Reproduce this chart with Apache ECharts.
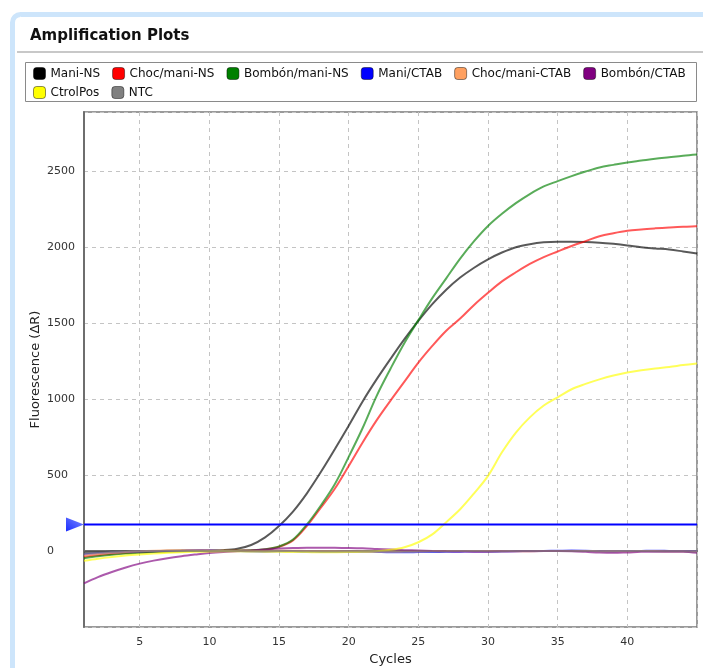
<!DOCTYPE html>
<html>
<head>
<meta charset="utf-8">
<script src="https://cdn.jsdelivr.net/npm/echarts@6/dist/echarts.min.js"></script>
<style>
  html, body { margin: 0; padding: 0; background: #ffffff; }
  #chart { width: 703px; height: 668px; }
</style>
</head>
<body>
<div id="chart"></div>
<script>
// Cycle numbers (x axis)
const cycles = [1,2,3,4,5,6,7,8,9,10,11,12,13,14,15,16,17,18,19,20,21,22,23,24,25,26,27,28,29,30,31,32,33,34,35,36,37,38,39,40,41,42,43,44,45];

// Fluorescence (ΔR) per cycle for each sample
const maniNS = [-12,-8,-5,-3,-2,0,2,3,3,4,6,15,40,90,165,260,380,520,670,825,985,1130,1265,1395,1515,1625,1720,1800,1865,1920,1965,2000,2020,2032,2036,2036,2035,2030,2022,2012,2000,1992,1985,1972,1958];
const chocManiNS = [-37,-27,-19,-13,-8,-4,-2,0,1,2,2,3,4,10,28,70,165,285,410,560,715,860,990,1115,1240,1350,1450,1530,1620,1700,1775,1835,1890,1935,1972,2008,2040,2072,2092,2108,2117,2124,2130,2135,2138];
const bombonManiNS = [-48,-35,-25,-17,-11,-6,-3,-1,0,1,2,3,5,12,30,75,175,300,440,620,810,1020,1200,1370,1520,1665,1795,1925,2040,2140,2220,2290,2350,2400,2435,2468,2498,2525,2542,2558,2570,2582,2592,2602,2610];
const maniCTAB = [-22,-15,-10,-6,-3,-1,0,2,5,3,1,0,-2,-3,-2,-2,-3,-4,-5,-5,-4,-6,-8,-8,-7,-6,-5,-4,-3,-3,-2,-1,0,1,2,3,2,0,-1,0,1,2,1,0,-2];
const chocManiCTAB = [-30,-20,-12,-6,-2,2,5,6,5,3,2,1,1,2,3,2,1,0,0,-1,-2,-3,-3,-2,-1,0,0,1,1,0,0,-1,-1,0,1,1,0,-1,-2,-1,0,0,-1,-2,-3];
const bombonCTAB = [-213,-172,-138,-108,-83,-63,-47,-34,-23,-13,-6,-1,4,10,16,20,22,22,21,20,18,14,10,6,3,0,-2,-3,-4,-4,-3,-2,-1,0,0,-1,-5,-10,-12,-9,-5,-4,-4,-5,-12];
const ctrolPos = [-64,-50,-39,-30,-23,-17,-12,-8,-5,-3,-2,-2,-3,-4,-5,-6,-7,-8,-8,-7,-5,-1,8,25,58,110,190,275,380,495,650,780,880,958,1012,1065,1100,1130,1155,1175,1190,1202,1212,1224,1235];
const ntc = [-15,-10,-6,-3,-1,0,1,1,1,0,0,0,-1,-1,0,0,-1,-2,-2,-1,-1,-2,-3,-3,-2,-1,-1,0,0,-1,-1,0,0,1,1,0,0,-1,-1,0,0,-1,-1,-2,-3];

// Threshold level (ΔR)
const thresholdValue = 175;

// Axis ticks
const xTickValues = [5, 10, 15, 20, 25, 30, 35, 40];
const yTickLabels = [0, 500, 1000, 1500, 2000, 2500];

// Sample names and their colours
const sampleNames = ['Mani-NS', 'Choc/mani-NS', 'Bombón/mani-NS', 'Mani/CTAB', 'Choc/mani-CTAB', 'Bombón/CTAB', 'CtrolPos', 'NTC'];
const sampleColors = ['#000000', '#ff0000', '#008000', '#0000ff', '#ffa060', '#800080', '#ffff00', '#808080'];
const sampleValues = [maniNS, chocManiNS, bombonManiNS, maniCTAB, chocManiCTAB, bombonCTAB, ctrolPos, ntc];

const FONT = 'DejaVu Sans';

const chart = echarts.init(document.getElementById('chart'), null, { renderer: 'canvas' });

const curveSeries = sampleNames.map((name, i) => ({
  name: name,
  type: 'line',
  data: cycles.map((c, k) => [c, sampleValues[i][k]]),
  showSymbol: false,
  symbol: 'none',
  smooth: 0.35,
  color: sampleColors[i],
  lineStyle: { width: 2, opacity: 0.65, color: sampleColors[i] },
  silent: true,
  z: 3
}));

const thresholdSeries = {
  name: 'Threshold',
  type: 'line',
  data: [[cycles[0], thresholdValue], [cycles[cycles.length - 1], thresholdValue]],
  showSymbol: false,
  symbol: 'none',
  lineStyle: { width: 2, color: '#0000ff' },
  silent: true,
  z: 4,
  markPoint: {
    symbol: 'triangle',
    symbolSize: [14, 18],
    symbolRotate: -90,
    symbolOffset: [-9, 0],
    silent: true,
    label: { show: false },
    itemStyle: {
      color: new echarts.graphic.LinearGradient(0, 0, 1, 1, [
        { offset: 0, color: '#7d8cff' },
        { offset: 1, color: '#1a2cff' }
      ])
    },
    data: [{ coord: [cycles[0], thresholdValue] }]
  }
};

const legendCommon = {
  icon: 'roundRect',
  itemWidth: 12,
  itemHeight: 12,
  itemGap: 12,
  padding: 0,
  selectedMode: false,
  itemStyle: { borderColor: 'rgba(0,0,0,0.45)', borderWidth: 1, opacity: 1 },
  textStyle: { fontFamily: FONT, fontSize: 12, color: '#111' }
};

const option = {
  backgroundColor: '#ffffff',
  animation: false,
  textStyle: { fontFamily: FONT },
  title: {
    text: 'Amplification Plots',
    left: 30,
    top: 29,
    padding: 0,
    textStyle: { fontFamily: FONT, fontSize: 15, fontWeight: 'bold', color: '#111' }
  },
  graphic: [
    {
      type: 'rect',
      z: -10,
      silent: true,
      shape: { x: 12.5, y: 14.5, width: 760, height: 720, r: 8 },
      style: { fill: '#ffffff', stroke: '#cde5fb', lineWidth: 5 }
    },
    {
      type: 'line',
      z: -9,
      silent: true,
      shape: { x1: 17, y1: 52, x2: 703, y2: 52 },
      style: { stroke: '#c8c8c8', lineWidth: 2 }
    },
    {
      type: 'rect',
      z: -9,
      silent: true,
      shape: { x: 25.5, y: 62.5, width: 671, height: 39 },
      style: { fill: '#ffffff', stroke: '#8a8a8a', lineWidth: 1 }
    }
  ],
  legend: [
    Object.assign({}, legendCommon, { left: 33, top: 67, data: sampleNames.slice(0, 6) }),
    Object.assign({}, legendCommon, { left: 33, top: 86, data: sampleNames.slice(6) })
  ],
  grid: {
    left: 84,
    top: 112,
    right: 6,
    bottom: 41,
    outerBoundsMode: 'none',
    containLabel: false,
    show: true,
    borderColor: '#7a7a7a',
    borderWidth: 1.5,
    backgroundColor: 'transparent'
  },
  xAxis: {
    type: 'value',
    min: 1,
    max: 45,
    splitNumber: 9,
    name: 'Cycles',
    nameLocation: 'middle',
    nameGap: 26,
    nameMoveOverlap: false,
    nameTextStyle: { fontFamily: FONT, fontSize: 13, color: '#222' },
    axisLine: { show: true, lineStyle: { color: '#6e6e6e', width: 2 } },
    axisTick: { show: false },
    axisLabel: {
      showMinLabel: false,
      showMaxLabel: false,
      margin: 10,
      fontFamily: FONT,
      fontSize: 11,
      color: '#333',
      formatter: v => (xTickValues.indexOf(v) >= 0 ? String(v) : '')
    },
    splitLine: { show: true, lineStyle: { color: '#c4c4c4', type: [4, 4], width: 1 } }
  },
  yAxis: {
    type: 'value',
    min: -500,
    max: 2890,
    interval: 500,
    name: 'Fluorescence (ΔR)',
    nameLocation: 'middle',
    nameGap: 42,
    nameMoveOverlap: false,
    nameTextStyle: { fontFamily: FONT, fontSize: 13, color: '#222' },
    axisLine: { show: true, lineStyle: { color: '#6e6e6e', width: 2 } },
    axisTick: { show: false },
    axisLabel: {
      showMinLabel: false,
      showMaxLabel: false,
      align: 'left',
      margin: 37,
      fontFamily: FONT,
      fontSize: 11,
      color: '#333',
      formatter: v => (yTickLabels.indexOf(v) >= 0 ? String(v) : '')
    },
    splitLine: { show: true, lineStyle: { color: '#c4c4c4', type: [4, 4], width: 1 } }
  },
  series: curveSeries.concat([thresholdSeries])
};

chart.setOption(option);
</script>
</body>
</html>
